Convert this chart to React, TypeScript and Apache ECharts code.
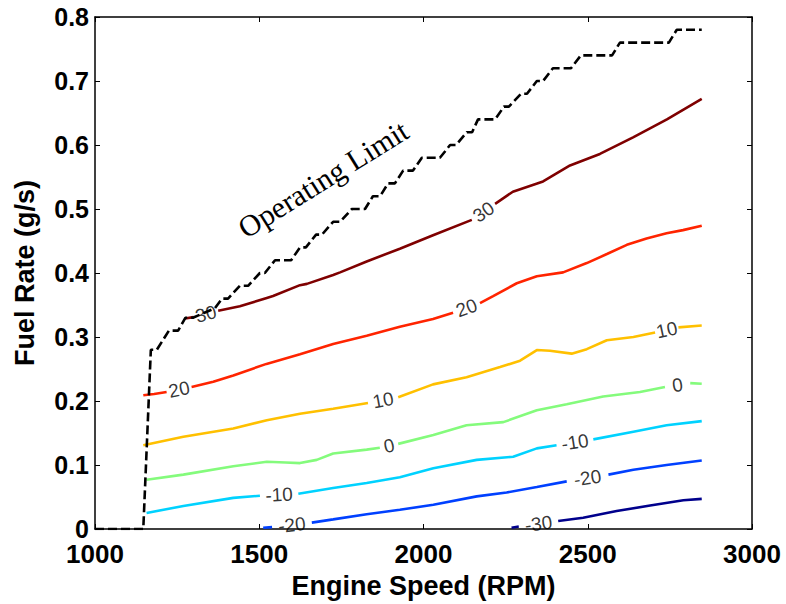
import { useEffect, useRef } from "react";
import * as echarts from "echarts";

type Pt = [number, number];

// Axis ticks
const xTickValues = [1000, 1500, 2000, 2500, 3000];
const yTickValues = [0, 0.1, 0.2, 0.3, 0.4, 0.5, 0.6, 0.7, 0.8];

// Operating limit (dashed black staircase)
const operatingLimit: Pt[] = [
  [1000, 0], [1147, 0], [1170, 0.28], [1188, 0.28], [1225, 0.31], [1253, 0.31],
  [1275, 0.33], [1298, 0.33], [1365, 0.345], [1387, 0.36], [1405, 0.36],
  [1441, 0.38], [1466, 0.38], [1502, 0.40], [1517, 0.40], [1548, 0.42],
  [1597, 0.42], [1624, 0.44], [1642, 0.44], [1673, 0.46], [1691, 0.46],
  [1725, 0.48], [1746, 0.48], [1782, 0.50], [1822, 0.50], [1846, 0.52],
  [1868, 0.52], [1892, 0.54], [1913, 0.54], [1938, 0.56], [1968, 0.56],
  [1995, 0.58], [2050, 0.58], [2081, 0.60], [2099, 0.60], [2132, 0.62],
  [2148, 0.62], [2166, 0.64], [2218, 0.64], [2245, 0.66], [2260, 0.66],
  [2297, 0.68], [2315, 0.68], [2345, 0.70], [2364, 0.70], [2394, 0.72],
  [2449, 0.72], [2479, 0.74], [2574, 0.74], [2598, 0.76], [2747, 0.76],
  [2771, 0.78], [2847, 0.78],
];

// Contour lines: each is a list of segments, a label sits between consecutive segments
const contour30: Pt[][] = [
  [[1274, 0.329], [1300, 0.331]],
  [[1375, 0.341], [1441, 0.348], [1523, 0.361], [1542, 0.364], [1624, 0.381], [1645, 0.383],
   [1725, 0.397], [1746, 0.401], [1827, 0.418], [1928, 0.438], [2029, 0.459], [2147, 0.483]],
  [[2218, 0.508], [2272, 0.527], [2364, 0.543], [2446, 0.568], [2537, 0.586], [2638, 0.612],
   [2741, 0.640], [2847, 0.672]],
];
const contour20: Pt[][] = [
  [[1147, 0.209], [1180, 0.211], [1218, 0.214]],
  [[1294, 0.222], [1360, 0.230], [1421, 0.240], [1522, 0.258], [1624, 0.273], [1725, 0.289],
   [1827, 0.302], [1928, 0.316], [2029, 0.328], [2090, 0.338]],
  [[2172, 0.353], [2212, 0.364], [2284, 0.384], [2345, 0.395], [2425, 0.401], [2497, 0.4155],
   [2560, 0.430], [2619, 0.444], [2679, 0.454], [2740, 0.462], [2790, 0.467], [2847, 0.474]],
];
const contour10: Pt[][] = [
  [[1147, 0.131], [1269, 0.144], [1421, 0.157], [1523, 0.170], [1624, 0.180], [1725, 0.188],
   [1831, 0.197]],
  [[1923, 0.206], [2029, 0.226], [2131, 0.237], [2233, 0.253], [2294, 0.263], [2345, 0.2796],
   [2385, 0.2786], [2451, 0.274], [2497, 0.281], [2558, 0.295], [2639, 0.300], [2705, 0.307]],
  [[2776, 0.315], [2847, 0.318]],
];
const contour0: Pt[][] = [
  [[1157, 0.077], [1269, 0.085], [1421, 0.098], [1523, 0.105], [1580, 0.104], [1624, 0.103],
   [1675, 0.108], [1725, 0.118], [1827, 0.124], [1867, 0.127]],
  [[1923, 0.133], [2030, 0.147], [2131, 0.162], [2243, 0.167], [2345, 0.1855], [2436, 0.195],
   [2547, 0.207], [2659, 0.214], [2735, 0.222]],
  [[2812, 0.228], [2847, 0.227]],
];
const contourM10: Pt[][] = [
  [[1157, 0.025], [1269, 0.036], [1421, 0.0486], [1502, 0.052]],
  [[1619, 0.055], [1725, 0.064], [1827, 0.072], [1928, 0.081], [2030, 0.095], [2162, 0.108],
   [2273, 0.113], [2345, 0.126], [2405, 0.131]],
  [[2517, 0.140], [2639, 0.152], [2740, 0.162], [2847, 0.1685]],
];
const contourM20: Pt[][] = [
  [[1512, 0.002], [1539, 0.003]],
  [[1660, 0.010], [1725, 0.015], [1827, 0.023], [1928, 0.030], [2030, 0.038], [2162, 0.051],
   [2253, 0.057], [2345, 0.0656], [2436, 0.0744]],
  [[2563, 0.085], [2639, 0.0926], [2740, 0.100], [2847, 0.107]],
];
const contourM30: Pt[][] = [
  [[2268, 0.002], [2290, 0.004]],
  [[2410, 0.0124], [2486, 0.0175], [2588, 0.028], [2690, 0.0367], [2791, 0.045], [2847, 0.047]],
];

const contourLevels = [30, 20, 10, 0, -10, -20, -30];
const contourSegments = [contour30, contour20, contour10, contour0, contourM10, contourM20, contourM30];

const levelColors: Record<string, string> = {
  "30": "#7f0000",
  "20": "#ff2400",
  "10": "#ffc000",
  "0": "#84fb7c",
  "-10": "#00d2ff",
  "-20": "#0040ff",
  "-30": "#00008c",
};

const SANS = '"Liberation Sans", Arial, Helvetica, sans-serif';
const SERIF = '"Liberation Serif", "Times New Roman", serif';

export default function App() {
  const ref = useRef<HTMLDivElement>(null);

  useEffect(() => {
    if (!ref.current) return;
    const chart = echarts.init(ref.current, null, { renderer: "svg" });

    const axisLine = { show: true, onZero: false, lineStyle: { color: "#000", width: 1.5 } };
    const axisTick = { show: true, inside: true, length: 5, lineStyle: { color: "#000", width: 1 } };
    const xMin = xTickValues[0];
    const xMax = xTickValues[xTickValues.length - 1];
    const xInt = xTickValues[1] - xTickValues[0];
    const yMin = yTickValues[0];
    const yMax = yTickValues[yTickValues.length - 1];
    const yInt = yTickValues[1] - yTickValues[0];

    const lineSeries: any[] = [];
    contourLevels.forEach((lvl, ci) => {
      contourSegments[ci].forEach((seg) => {
        lineSeries.push({
          type: "line",
          data: seg,
          showSymbol: false,
          symbol: "none",
          smooth: false,
          lineStyle: { color: levelColors[String(lvl)], width: 2.6 },
          z: 3,
          silent: true,
        });
      });
    });

    lineSeries.push({
      type: "line",
      data: operatingLimit,
      showSymbol: false,
      symbol: "none",
      lineStyle: { color: "#000", width: 2.6, type: [9, 4] },
      z: 4,
      silent: true,
    });

    lineSeries.push({
      id: "labels",
      type: "scatter",
      data: [],
      symbolSize: 1,
      itemStyle: { color: "rgba(0,0,0,0)" },
      label: {
        show: true,
        position: "inside",
        formatter: "{b}",
        color: "#000",
        fontSize: 19,
        fontFamily: SANS,
      },
      z: 5,
      silent: true,
    });

    const option: any = {
      animation: false,
      backgroundColor: "#fff",
      grid: { left: 95, top: 17, right: 34, bottom: 71, containLabel: false },
      xAxis: [
        {
          type: "value",
          min: xMin,
          max: xMax,
          interval: xInt,
          position: "bottom",
          axisLine,
          axisTick,
          splitLine: { show: false },
          axisLabel: {
            color: "#000",
            fontSize: 26,
            fontWeight: "bold",
            fontFamily: SANS,
            margin: 15,
            lineHeight: 20,
            showMinLabel: true,
            showMaxLabel: true,
            formatter: (v: number) => String(v),
          },
          name: "Engine Speed (RPM)",
          nameLocation: "middle",
          nameGap: 43,
          nameTextStyle: { color: "#000", fontSize: 27, fontWeight: "bold", fontFamily: SANS },
        },
        {
          type: "value",
          min: xMin,
          max: xMax,
          interval: xInt,
          position: "top",
          axisLine,
          axisTick,
          splitLine: { show: false },
          axisLabel: { show: false },
        },
      ],
      yAxis: [
        {
          type: "value",
          min: yMin,
          max: yMax,
          interval: yInt,
          position: "left",
          axisLine,
          axisTick,
          splitLine: { show: false },
          axisLabel: {
            color: "#000",
            fontSize: 25,
            fontWeight: "bold",
            fontFamily: SANS,
            margin: 6,
            lineHeight: 20,
            showMinLabel: true,
            showMaxLabel: true,
          },
          name: "Fuel Rate (g/s)",
          nameLocation: "middle",
          nameGap: 57,
          nameTextStyle: { color: "#000", fontSize: 27, fontWeight: "bold", fontFamily: SANS },
        },
        {
          type: "value",
          min: yMin,
          max: yMax,
          interval: yInt,
          position: "right",
          axisLine,
          axisTick,
          splitLine: { show: false },
          axisLabel: { show: false },
        },
      ],
      series: lineSeries,
      graphic: [
        {
          type: "rect",
          shape: { x: 96, y: 534.5, width: 655, height: 9 },
          style: { fill: "#fff" },
          z: 100,
          silent: true,
        },
        {
          type: "text",
          x: 323,
          y: 179,
          rotation: (32 * Math.PI) / 180,
          style: {
            text: "Operating Limit",
            font: `30px ${SERIF}`,
            fill: "#000",
            align: "center",
            verticalAlign: "middle",
            textAlign: "center",
            textVerticalAlign: "middle",
          },
          z: 100,
          silent: true,
        },
      ],
    };

    chart.setOption(option);

    const labelData: any[] = [];
    contourLevels.forEach((lvl, ci) => {
      const segs = contourSegments[ci];
      for (let i = 0; i < segs.length - 1; i++) {
        const a = segs[i][segs[i].length - 1];
        const b = segs[i + 1][0];
        const pa = chart.convertToPixel({ gridIndex: 0 }, a) as number[];
        const pb = chart.convertToPixel({ gridIndex: 0 }, b) as number[];
        const ang = (Math.atan2(-(pb[1] - pa[1]), pb[0] - pa[0]) * 180) / Math.PI;
        labelData.push({
          value: [(a[0] + b[0]) / 2, (a[1] + b[1]) / 2],
          name: String(lvl),
          label: { rotate: ang },
        });
      }
    });
    chart.setOption({ series: [{ id: "labels", data: labelData }] });

    return () => chart.dispose();
  }, []);

  return (
    <div
      ref={ref}
      style={{ position: "absolute", left: 0, top: 0, width: 786, height: 604, background: "#fff" }}
    />
  );
}
